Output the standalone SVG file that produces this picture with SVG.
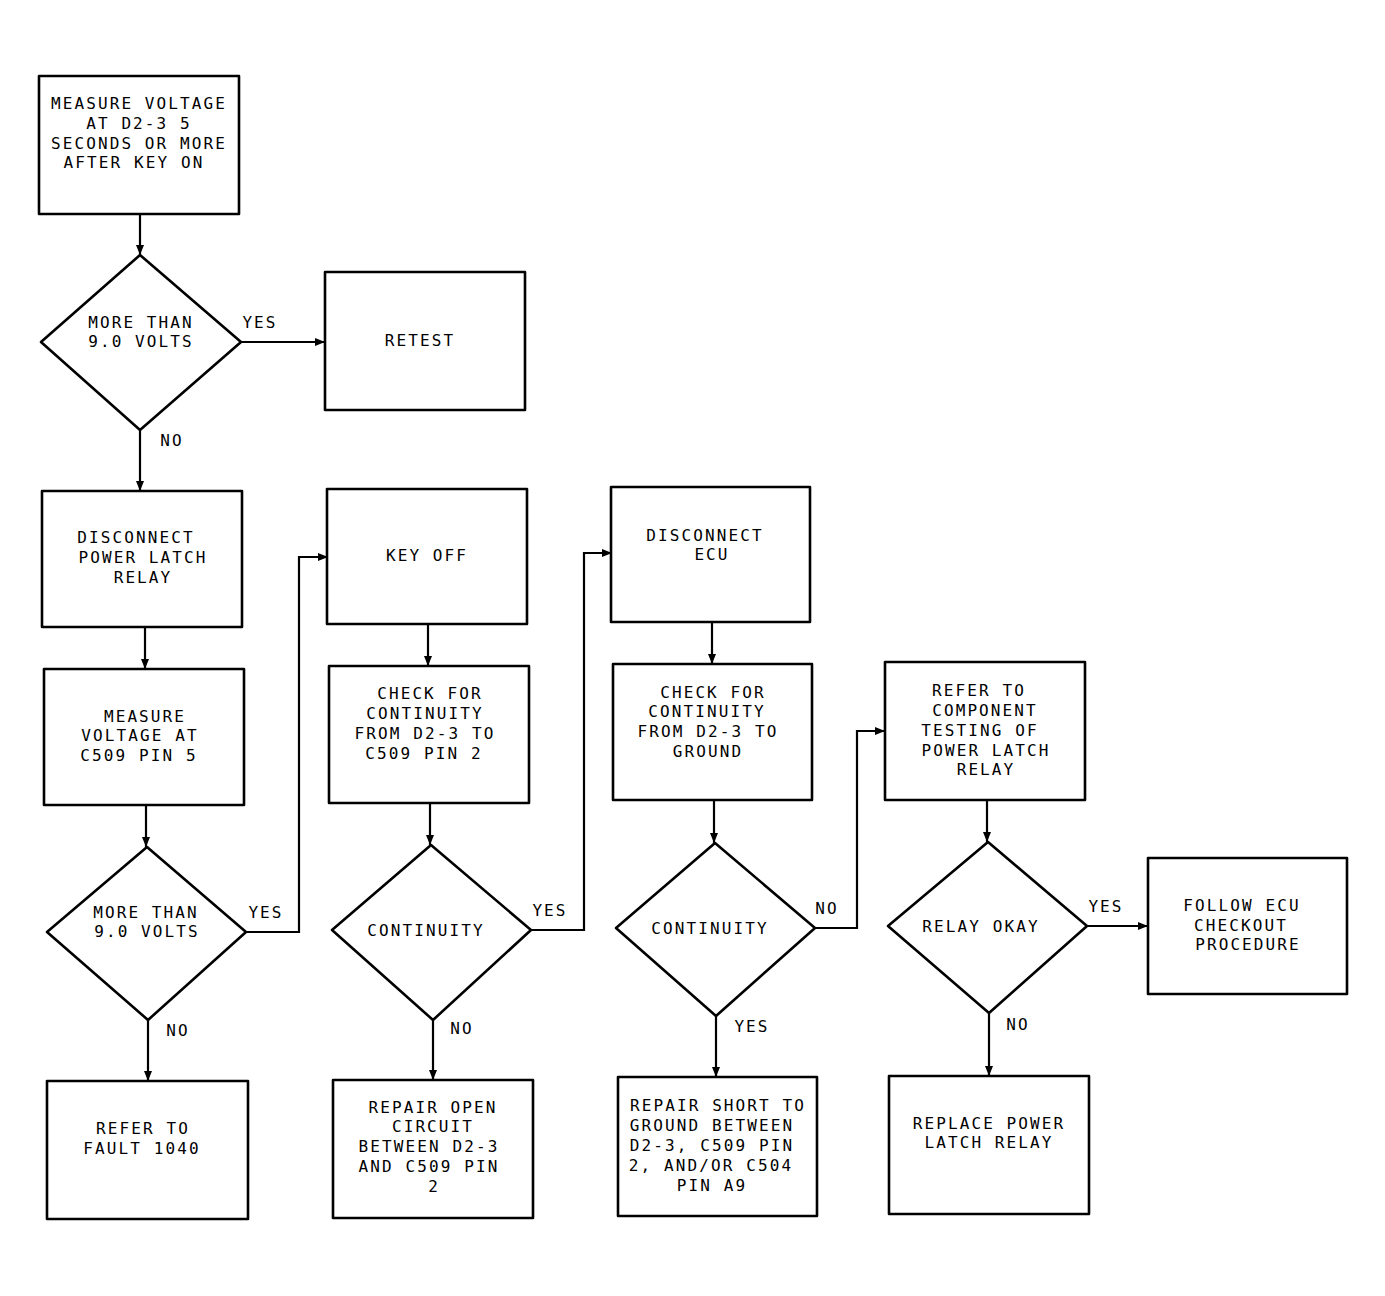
<svg xmlns="http://www.w3.org/2000/svg" width="1385" height="1296" viewBox="0 0 1385 1296">
<defs>
<style>
.b{fill:#fff;stroke:#000;stroke-width:2.6;stroke-linejoin:round}
.c{fill:none;stroke:#000;stroke-width:2.2}
text{font-family:"DejaVu Sans Mono","Liberation Mono",monospace;font-size:16px;letter-spacing:2.1px;fill:#000;text-anchor:middle;dominant-baseline:central}
</style>
<marker id="ah" viewBox="0 0 10 8" refX="10" refY="4" markerWidth="10" markerHeight="8" markerUnits="userSpaceOnUse" orient="auto">
<path d="M0,0 L10,4 L0,8 Z" fill="#000"/>
</marker>
</defs>
<rect width="1385" height="1296" fill="#fff"/>

<g id="connectors">
<path class="c" d="M140,214 V255" marker-end="url(#ah)"/>
<path class="c" d="M241,342 H325" marker-end="url(#ah)"/>
<path class="c" d="M140,430 V491" marker-end="url(#ah)"/>
<path class="c" d="M145,627 V669" marker-end="url(#ah)"/>
<path class="c" d="M146,805 V847" marker-end="url(#ah)"/>
<path class="c" d="M246,932 H299 V557 H328" marker-end="url(#ah)"/>
<path class="c" d="M148,1020 V1081" marker-end="url(#ah)"/>
<path class="c" d="M428,624 V666" marker-end="url(#ah)"/>
<path class="c" d="M430,803 V845" marker-end="url(#ah)"/>
<path class="c" d="M531,930 H584 V553 H612" marker-end="url(#ah)"/>
<path class="c" d="M433,1020 V1080" marker-end="url(#ah)"/>
<path class="c" d="M712,622 V664" marker-end="url(#ah)"/>
<path class="c" d="M714,800 V843" marker-end="url(#ah)"/>
<path class="c" d="M815,928 H857 V731 H885" marker-end="url(#ah)"/>
<path class="c" d="M716,1016 V1077" marker-end="url(#ah)"/>
<path class="c" d="M987,800 V842" marker-end="url(#ah)"/>
<path class="c" d="M1087,926 H1148" marker-end="url(#ah)"/>
<path class="c" d="M989,1013 V1076" marker-end="url(#ah)"/>
<text x="260" y="322">YES</text>
<text x="172" y="440">NO</text>
<text x="266" y="912">YES</text>
<text x="178" y="1030">NO</text>
<text x="550" y="910">YES</text>
<text x="462" y="1028">NO</text>
<text x="827" y="908">NO</text>
<text x="752" y="1026">YES</text>
<text x="1106" y="906">YES</text>
<text x="1018" y="1024">NO</text>
</g>

<g id="n1">
<rect class="b" x="39" y="76" width="200" height="138"/>
<text x="139" y="103">MEASURE VOLTAGE</text>
<text x="139" y="123">AT D2-3 5</text>
<text x="139" y="143">SECONDS OR MORE</text>
<text x="134" y="162">AFTER KEY ON</text>
</g>

<g id="d1">
<path class="b" d="M140,255 L241,342 L140,430 L41,342 Z"/>
<text x="141" y="322">MORE THAN</text>
<text x="141" y="341">9.0 VOLTS</text>
</g>

<g id="n_retest">
<rect class="b" x="325" y="272" width="200" height="138"/>
<text x="420" y="340">RETEST</text>
</g>

<g id="n2">
<rect class="b" x="42" y="491" width="200" height="136"/>
<text x="136" y="537">DISCONNECT</text>
<text x="143" y="557">POWER LATCH</text>
<text x="143" y="577">RELAY</text>
</g>

<g id="n3">
<rect class="b" x="44" y="669" width="200" height="136"/>
<text x="145" y="716">MEASURE</text>
<text x="140" y="735">VOLTAGE AT</text>
<text x="139" y="755">C509 PIN 5</text>
</g>

<g id="d2">
<path class="b" d="M147,847 L246,932 L148,1020 L47,932 Z"/>
<text x="146" y="912">MORE THAN</text>
<text x="147" y="931">9.0 VOLTS</text>
</g>

<g id="n4">
<rect class="b" x="47" y="1081" width="201" height="138"/>
<text x="143" y="1128">REFER TO</text>
<text x="142" y="1148">FAULT 1040</text>
</g>

<g id="n5">
<rect class="b" x="327" y="489" width="200" height="135"/>
<text x="427" y="555">KEY OFF</text>
</g>

<g id="n6">
<rect class="b" x="329" y="666" width="200" height="137"/>
<text x="430" y="693">CHECK FOR</text>
<text x="425" y="713">CONTINUITY</text>
<text x="425" y="733">FROM D2-3 TO</text>
<text x="424" y="753">C509 PIN 2</text>
</g>

<g id="d3">
<path class="b" d="M431,845 L531,930 L433,1020 L332,930 Z"/>
<text x="426" y="930">CONTINUITY</text>
</g>

<g id="n7">
<rect class="b" x="333" y="1080" width="200" height="138"/>
<text x="433" y="1107">REPAIR OPEN</text>
<text x="433" y="1126">CIRCUIT</text>
<text x="429" y="1146">BETWEEN D2-3</text>
<text x="429" y="1166">AND C509 PIN</text>
<text x="434" y="1186">2</text>
</g>

<g id="n8">
<rect class="b" x="611" y="487" width="199" height="135"/>
<text x="705" y="535">DISCONNECT</text>
<text x="712" y="554">ECU</text>
</g>

<g id="n9">
<rect class="b" x="613" y="664" width="199" height="136"/>
<text x="713" y="692">CHECK FOR</text>
<text x="707" y="711">CONTINUITY</text>
<text x="708" y="731">FROM D2-3 TO</text>
<text x="708" y="751">GROUND</text>
</g>

<g id="d4">
<path class="b" d="M715,843 L815,928 L716,1016 L616,928 Z"/>
<text x="710" y="928">CONTINUITY</text>
</g>

<g id="n10">
<rect class="b" x="618" y="1077" width="199" height="139"/>
<text x="718" y="1105">REPAIR SHORT TO</text>
<text x="712" y="1125">GROUND BETWEEN</text>
<text x="712" y="1145">D2-3, C509 PIN</text>
<text x="711" y="1165">2, AND/OR C504</text>
<text x="712" y="1185">PIN A9</text>
</g>

<g id="n11">
<rect class="b" x="885" y="662" width="200" height="138"/>
<text x="979" y="690">REFER TO</text>
<text x="985" y="710">COMPONENT</text>
<text x="980" y="730">TESTING OF</text>
<text x="986" y="750">POWER LATCH</text>
<text x="986" y="769">RELAY</text>
</g>

<g id="d5">
<path class="b" d="M988,842 L1087,926 L989,1013 L888,926 Z"/>
<text x="981" y="926">RELAY OKAY</text>
</g>

<g id="n12">
<rect class="b" x="1148" y="858" width="199" height="136"/>
<text x="1242" y="905">FOLLOW ECU</text>
<text x="1241" y="925">CHECKOUT</text>
<text x="1248" y="944">PROCEDURE</text>
</g>

<g id="n13">
<rect class="b" x="889" y="1076" width="200" height="138"/>
<text x="989" y="1123">REPLACE POWER</text>
<text x="989" y="1142">LATCH RELAY</text>
</g>
</svg>
